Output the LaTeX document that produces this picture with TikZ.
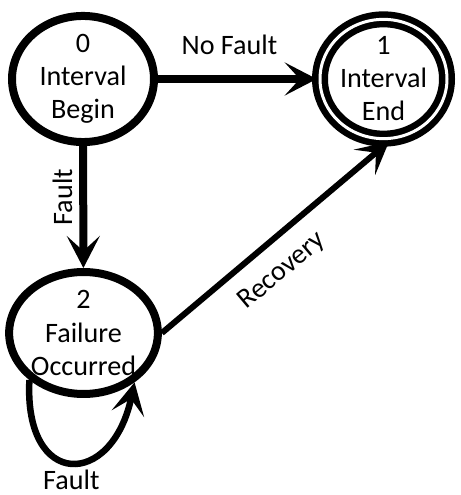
\documentclass[tikz,border=0pt]{standalone}
\usepackage{fontspec}
\setmainfont{Carlito}
\usepackage{tikz}
\usetikzlibrary{positioning,shapes.geometric,arrows.meta}
\newcommand\fsmfont{\fontsize{16}{18.8}\selectfont}
\tikzset{
  fsmstate/.style={ellipse, draw, line width=1.6mm, minimum width=2.84cm,
    minimum height=2.44cm, inner sep=0pt, align=center, font=\fsmfont},
  fsmfinal/.style={fsmstate, double, line width=1.3mm, double distance=0.6mm,
    minimum width=2.54cm, minimum height=2.32cm},
  trans/.style={line width=1.6mm, -{Stealth[length=6.4mm,width=6.6mm,inset=3mm]}},
  translbl/.style={font=\fsmfont}
}

\begin{document}
\begin{tikzpicture}[scale=1]
  \useasboundingbox (0,0) rectangle (9.2,9.9);
  \node[fsmstate] (ivbegin) at (1.66,8.32) {0\\Interval\\Begin};
  \node[fsmfinal] (ivend) at (7.67,8.32) {1\\Interval\\End};
  \node[fsmstate] (failure) at (1.67,3.24) {2\\Failure\\Occurred};
  % transitions
  \draw[trans] (ivbegin) -- node[translbl, pos=0.45, above=2.8mm] {No Fault} (ivend);
  \draw[trans] (ivbegin) -- node[translbl, pos=0.42, rotate=90, anchor=south, yshift=0.2mm] {Fault} (failure);
  \draw[trans, line width=1.2mm] (failure.east) -- node[translbl, pos=0.445, sloped, below=2mm] {Recovery} (ivend.-85);
  % self loop under state 2
  \draw[trans, line width=1.3mm] (failure.221) to[out=-93, in=-102, looseness=2.65]
    node[translbl, below=0mm, inner sep=1mm] {Fault} (failure.-44);
\end{tikzpicture}
\end{document}
